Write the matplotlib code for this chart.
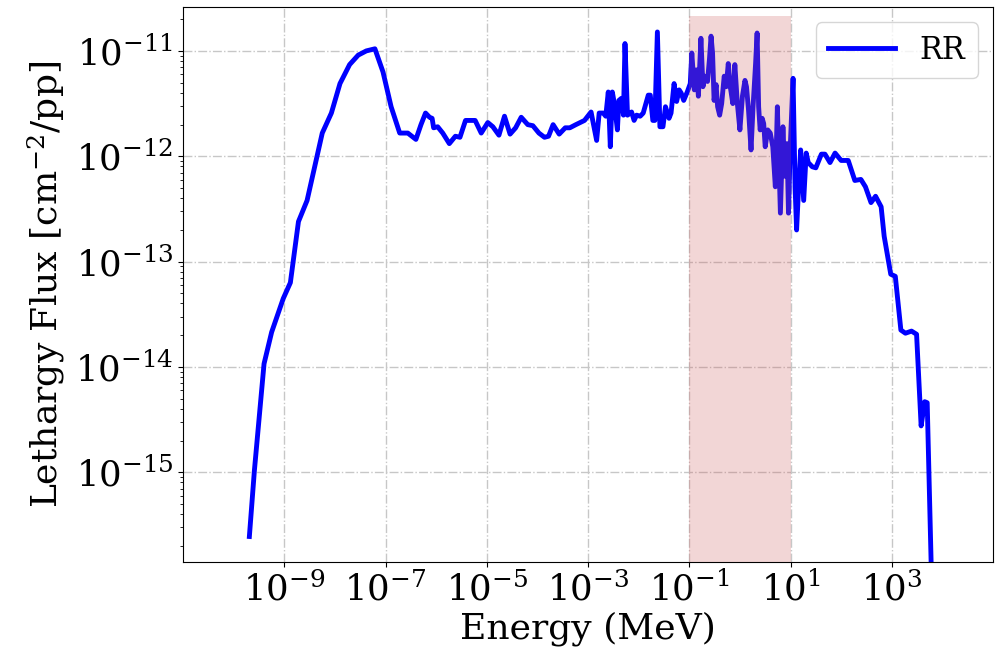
import numpy as np
import matplotlib
matplotlib.use('Agg')
import matplotlib.pyplot as plt

# Widmo strumienia, wartości jako log10
log_energy = [
    -9.69, -9.59, -9.40, -9.25, -9.02, -8.88, -8.72, -8.55, -8.25, -8.07,
    -7.90, -7.71, -7.54, -7.38, -7.21, -7.05, -6.89, -6.72, -6.56, -6.40,
    -6.30, -6.21, -6.13, -6.08, -6.05, -5.97, -5.87, -5.74, -5.62, -5.53,
    -5.42, -5.23, -5.11, -4.98, -4.88, -4.76, -4.65, -4.54, -4.43, -4.32,
    -4.19, -4.09, -3.97, -3.86, -3.78, -3.69, -3.57, -3.45, -3.36, -3.24,
    -3.07, -2.94, -2.83, -2.78, -2.70, -2.65, -2.60, -2.56, -2.52, -2.48,
    -2.42, -2.39, -2.34, -2.30, -2.27, -2.22, -2.14, -2.09, -2.04, -1.97,
    -1.91, -1.81, -1.77, -1.72, -1.68, -1.63, -1.58, -1.52, -1.47, -1.40,
    -1.36, -1.30, -1.25, -1.20, -1.16, -1.11, -1.04, -0.98, -0.95, -0.90,
    -0.86, -0.82, -0.77, -0.73, -0.69, -0.64, -0.60, -0.57, -0.54, -0.51,
    -0.47, -0.44, -0.40, -0.36, -0.31, -0.27, -0.23, -0.19, -0.14, -0.10,
    -0.05, 0.00, 0.05, 0.10, 0.13, 0.17, 0.22, 0.26, 0.31, 0.34,
    0.37, 0.40, 0.44, 0.47, 0.50, 0.55, 0.60, 0.65, 0.70, 0.74,
    0.80, 0.85, 0.89, 0.93, 0.96, 0.99, 1.05, 1.09, 1.12, 1.16,
    1.20, 1.26, 1.31, 1.35, 1.43, 1.50, 1.61, 1.68, 1.78, 1.88,
    2.00, 2.14, 2.27, 2.39, 2.48, 2.59, 2.68, 2.79, 2.85, 2.98,
    3.07, 3.18, 3.27, 3.39, 3.49, 3.58, 3.65, 3.70, 3.79,
]
log_flux = [
    -15.61, -14.98, -13.97, -13.67, -13.35, -13.20, -12.62, -12.42, -11.78, -11.59,
    -11.31, -11.13, -11.04, -11.00, -10.98, -11.20, -11.53, -11.78, -11.78, -11.84,
    -11.70, -11.59, -11.63, -11.64, -11.73, -11.72, -11.78, -11.88, -11.81, -11.82,
    -11.66, -11.66, -11.78, -11.68, -11.72, -11.80, -11.62, -11.79, -11.73, -11.63,
    -11.70, -11.71, -11.78, -11.82, -11.81, -11.70, -11.79, -11.73, -11.73, -11.70,
    -11.66, -11.58, -11.85, -11.59, -11.59, -11.62, -11.39, -11.91, -11.39, -11.50,
    -11.75, -11.47, -11.45, -11.61, -10.93, -11.61, -11.58, -11.66, -11.61, -11.62,
    -11.59, -11.42, -11.42, -11.66, -11.66, -10.82, -11.72, -11.72, -11.53, -11.64,
    -11.59, -11.31, -11.48, -11.37, -11.40, -11.47, -11.39, -11.31, -11.02, -11.37,
    -11.18, -11.43, -10.88, -11.34, -11.24, -11.29, -11.07, -10.86, -11.02, -11.47,
    -11.32, -11.53, -11.61, -11.50, -11.24, -11.34, -11.12, -11.34, -11.50, -11.13,
    -11.50, -11.75, -11.43, -11.28, -11.34, -11.56, -11.94, -11.53, -11.12, -10.83,
    -11.53, -11.75, -11.64, -11.69, -11.91, -11.75, -11.78, -11.91, -12.29, -11.53,
    -12.54, -11.72, -12.19, -11.88, -12.54, -11.97, -11.26, -12.29, -12.70, -12.29,
    -11.94, -12.42, -11.97, -12.06, -12.10, -12.11, -11.98, -11.98, -12.06, -11.97,
    -12.04, -12.04, -12.23, -12.22, -12.29, -12.44, -12.38, -12.48, -12.76, -13.12,
    -13.14, -13.65, -13.68, -13.66, -13.69, -14.56, -14.33, -14.34, -16.10,
]

energy = 10.0 ** np.array(log_energy)
flux = 10.0 ** np.array(log_flux)

# zakres zaznaczony na różowo
band = [0.1, 10.0]
band_top = 2.15e-11

x_ticks = [1e-9, 1e-7, 1e-5, 1e-3, 1e-1, 1e1, 1e3]
y_ticks = [1e-15, 1e-14, 1e-13, 1e-12, 1e-11]

plt.rcParams['font.family'] = 'serif'
plt.rcParams['font.serif'] = ['DejaVu Serif']
plt.rcParams['mathtext.fontset'] = 'dejavuserif'

fig = plt.figure(figsize=(9.97, 6.54), dpi=100)
ax = fig.add_axes([0.1836, 0.141, 0.8124, 0.848])

ax.plot(energy, flux, color='blue', linewidth=3.5, label='RR', zorder=2)
ax.fill_between(band, 1e-17, band_top, color='indianred', alpha=0.25,
                linewidth=0, zorder=3)

ax.set_xscale('log')
ax.set_yscale('log')
ax.set_xlim(1e-11, 1e5)
ax.set_ylim(10 ** -15.85, 10 ** -10.585)
ax.set_xticks(x_ticks)
ax.set_yticks(y_ticks)
ax.xaxis.set_minor_locator(matplotlib.ticker.NullLocator())

ax.grid(True, which='major', linestyle='-.', color='0.78', linewidth=1.0)
ax.tick_params(axis='both', which='major', labelsize=25.5)

ax.set_xlabel('Energy (MeV)', fontsize=26, labelpad=3)
ax.set_ylabel('Lethargy Flux [cm$^{-2}$/pp]', fontsize=26, labelpad=6)
ax.legend(loc='upper right', fontsize=22, handlelength=2.2)

plt.savefig('out.png', dpi=100)
plt.close()
